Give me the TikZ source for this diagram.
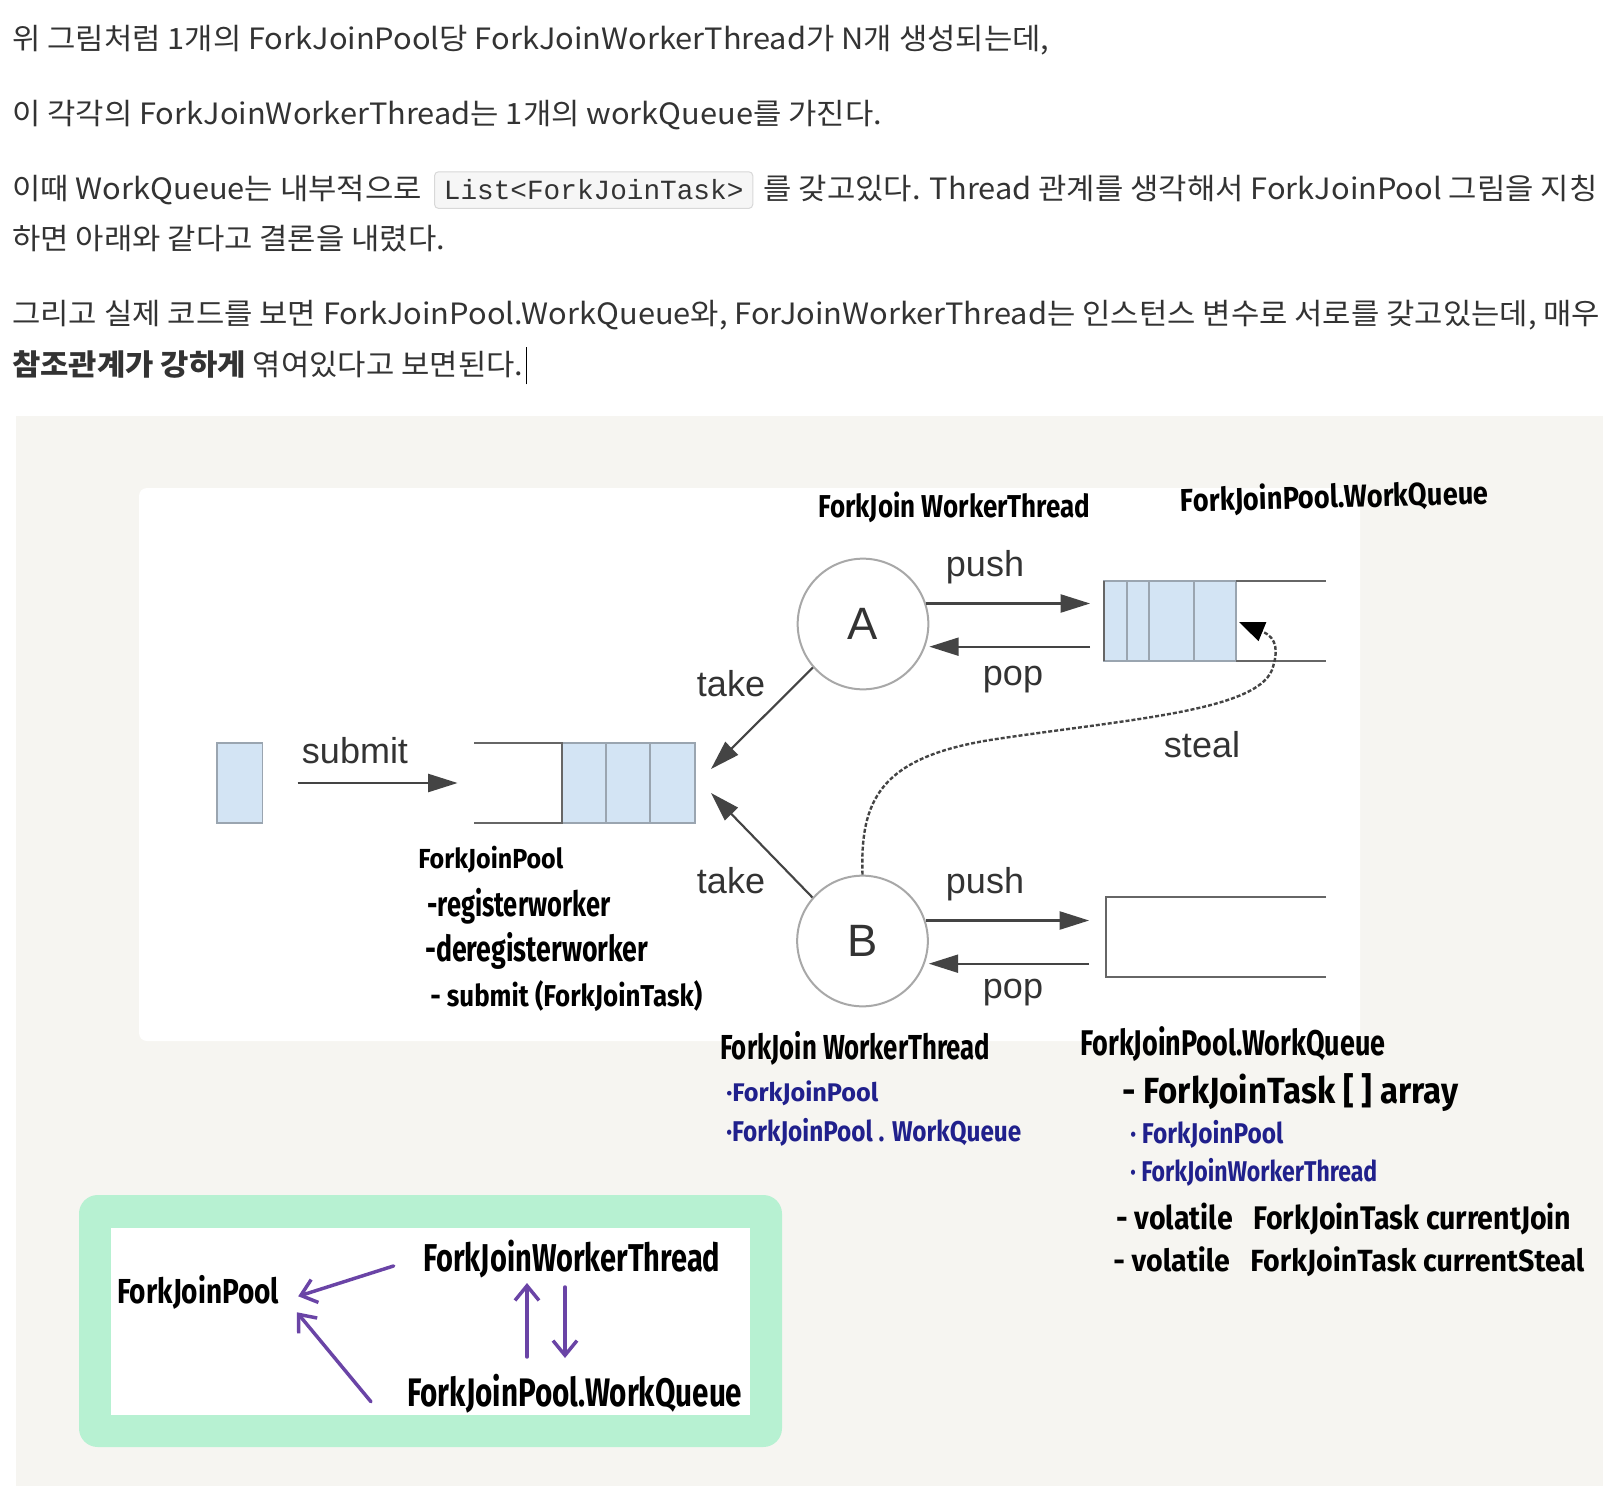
\documentclass[tikz,border=0pt]{standalone}
\usepackage{fontspec}
\usepackage{graphicx}
\usetikzlibrary{arrows.meta}
\setmainfont{Noto Sans CJK KR}[FakeStretch=1.05]
\newfontfamily\hwfont{Fira Sans}
\newfontfamily\dgfont{Liberation Sans}
\newfontfamily\codefont{Liberation Mono}
\newlength\pxu \setlength\pxu{0.75pt}
\newcommand\bodyfont{\fontsize{22}{26}\selectfont}
\newcommand\hwbox[3]{\resizebox*{#1\pxu}{#2\pxu}{\hwfont\bfseries #3}}
\definecolor{bodytext}{HTML}{333333}
\definecolor{paper}{HTML}{F6F5F1}
\definecolor{qblue}{HTML}{D3E4F4}
\definecolor{cellgray}{HTML}{9AA5B0}
\definecolor{qdark}{HTML}{666666}
\definecolor{circgray}{HTML}{A8A8A8}
\definecolor{arrowgray}{HTML}{444444}
\definecolor{dgtext}{HTML}{333333}
\definecolor{mint}{HTML}{B7F1D2}
\definecolor{violet}{HTML}{6A44A6}
\definecolor{navy}{HTML}{20208C}
\definecolor{codebg}{HTML}{F6F6F6}
\definecolor{codeline}{HTML}{D8D8D8}
\begin{document}
\begin{tikzpicture}[x=0.75pt,y=-0.75pt,
  body/.style={anchor=base west, inner sep=0pt, text=bodytext, font=\bodyfont},
  codebox/.style={anchor=base west, fill=codebg, draw=codeline, line width=0.75pt,
    rounded corners=3pt, inner xsep=7pt, inner ysep=0pt, minimum height=27.5pt,
    text=bodytext, font=\codefont\fontsize{20.8}{22}\selectfont},
  hw/.style={anchor=north west, inner sep=0pt, text=black},
  hwblue/.style={hw, text=navy},
  lbl/.style={inner sep=0pt, text=dgtext, font=\dgfont\fontsize{27}{30}\selectfont},
  worker/.style={circle, draw=circgray, fill=white, line width=1.5pt, minimum size=98pt,
    inner sep=0pt, text=dgtext, font=\dgfont\fontsize{34}{36}\selectfont},
  qcell/.style={fill=qblue, draw=cellgray, line width=1pt},
  qedge/.style={draw=qdark, line width=1.6pt},
  qbox/.style={inner sep=0pt, minimum width=166pt, minimum height=60pt},
  garrow/.style={draw=arrowgray, line width=1.6pt, -{Triangle[length=22pt,width=13.5pt]}},
  steal/.style={draw=arrowgray, line width=1.8pt, dash pattern=on 3pt off 1.5pt,
    -{Triangle[length=19pt,width=15pt,fill=black,color=black]}},
  parrow/.style={draw=violet, line width=2.6pt, line cap=round,
    -{Straight Barb[length=11pt,width=18pt,line width=2.6pt]}}]
\path[use as bounding box, fill=white] (0,0) rectangle (1624,1498);

% ---- text ----
\node[body] (l1) at (12,50) {위 그림처럼 1개의 ForkJoinPool당 ForkJoinWorkerThread가 N개 생성되는데,};
\node[body] (l2) at (12,125) {이 각각의 ForkJoinWorkerThread는 1개의 workQueue를 가진다.};
\node[body] (l3a) at (12,200) {이때 WorkQueue는 내부적으로};
\node[codebox] (code) at ([xshift=9pt]l3a.base east) {List<ForkJoinTask>};
\node[body] (l3b) at ([xshift=7.5pt]code.base east) {를 갖고있다. Thread 관계를 생각해서 ForkJoinPool 그림을 지칭};
\node[body] (l4) at (12,250) {하면 아래와 같다고 결론을 내렸다.};
\node[body] (l5) at (12,325) {그리고 실제 코드를 보면 ForkJoinPool.WorkQueue와, ForJoinWorkerThread는 인스턴스 변수로 서로를 갖고있는데, 매우};
\node[body] (l6) at (12,375) {\textbf{참조관계가 강하게} 엮여있다고 보면된다.};
\draw[black, line width=0.8pt] ([xshift=2pt,yshift=-7pt]l6.base east) -- ([xshift=2pt,yshift=21pt]l6.base east);

% ---- picture ----
\fill[paper] (16,416) rectangle (1603,1486);
\fill[white, rounded corners=6pt] (139,488) rectangle (1360,1041);

% task and pool queue
\node[qcell, inner sep=0pt, minimum width=34pt, minimum height=60pt] (task) at (239.5,783) {};
\node[qbox] (pool) at (584.5,783) {};
\draw[qcell] (562,743) rectangle (606,823);
\draw[qcell] (606,743) rectangle (650,823);
\draw[qcell] (650,743) rectangle (695,823);
\draw[qedge] (474,743) -- (562,743) -- (562,823) -- (474,823);
\coordinate (subS) at ([xshift=26pt]task.east);
\draw[garrow] (subS |- pool.west) -- ([xshift=-12pt]pool.west);
\node[lbl] (lsubmit) at (355,751) {submit};

% workers
\node[worker] (A) at (863,624) {A};
\node[worker] (B) at (862.5,941) {B};

% queue A
\node[qbox] (qA) at (1215,620.5) {};
\draw[qcell] (1104,581) rectangle (1127,661);
\draw[qcell] (1127,581) rectangle (1149,661);
\draw[qcell] (1149,581) rectangle (1194,661);
\draw[qcell] (1194,581) rectangle (1236,661);
\draw[qedge] (1104,581) -- (1104,661);
\draw[qedge] (1236,581) -- (1326,581);
\draw[qedge] (1236,661) -- (1326,661);

% queue B
\node[qbox] (qB) at (1216,937) {};
\draw[qedge] (1326,897) -- (1106,897) -- (1106,977) -- (1326,977);

% take arrows
\coordinate (take1) at (711,769);
\coordinate (take2) at (711,793);
\draw[garrow] (A.221) -- (take1);
\draw[garrow] (B.139) -- (take2);
\node[lbl] (ltake1) at (731,684) {take};
\node[lbl] (ltake2) at (731,881) {take};

% push / pop
\coordinate (qAin) at ([xshift=-10.5pt]qA.west);
\coordinate (qBin) at ([xshift=-12pt]qB.west);
\draw[garrow] (A.18) -- (A.18 -| qAin);
\draw[garrow] (A.-20 -| qAin) -- ([xshift=3pt]A.-20);
\draw[garrow] (B.18) -- (B.18 -| qBin);
\draw[garrow] (B.-20 -| qBin) -- ([xshift=3pt]B.-20);
\node[lbl] (lpushA) at (985,567) {push};
\node[lbl] (lpopA) at (1013,680) {pop};
\node[lbl] (lpushB) at (985,884) {push};
\node[lbl] (lpopB) at (1013,993) {pop};

% steal
\coordinate (stealTip) at (1239,622);
\draw[steal] (B.90) .. controls (860,800) and (880,758) .. (990,740)
  .. controls (1120,720) and (1255,712) .. (1272,670)
  .. controls (1278,652) and (1278,638) .. (stealTip);
\node[lbl] (lsteal) at (1202,745) {steal};

% handwriting in upper picture
\node[hw] (h1) at (818,492) {\hwbox{272}{31}{ForkJoin WorkerThread}};
\node[hw, rotate=1.5] (h2) at (1180,486) {\hwbox{308}{31}{ForkJoinPool.WorkQueue}};
\node[hw] (h3) at (418,846) {\hwbox{145}{27}{ForkJoinPool}};
\node[hw] (h4) at (427,888) {\hwbox{183}{36}{-registerworker}};
\node[hw] (h5) at (425,932) {\hwbox{223}{37}{-deregisterworker}};
\node[hw] (h6) at (430,980) {\hwbox{272}{31}{- submit (ForkJoinTask)}};
\node[hw] (h7) at (720,1031) {\hwbox{270}{34}{ForkJoin WorkerThread}};
\node[hwblue] (h8) at (726,1081) {\hwbox{152}{25}{·ForkJoinPool}};
\node[hwblue] (h9) at (726,1118) {\hwbox{295}{28}{·ForkJoinPool . WorkQueue}};
\node[hw] (h10) at (1080,1026) {\hwbox{305}{35}{ForkJoinPool.WorkQueue}};
\node[hw] (h11) at (1122,1073) {\hwbox{336}{38}{- ForkJoinTask [ ] array}};
\node[hwblue] (h12) at (1130,1120) {\hwbox{153}{28}{· ForkJoinPool}};
\node[hwblue] (h13) at (1130,1158) {\hwbox{247}{28}{· ForkJoinWorkerThread}};
\node[hw] (h14) at (1116,1203) {\hwbox{455}{32}{- volatile \ \ ForkJoinTask currentJoin}};
\node[hw] (h15) at (1113,1246) {\hwbox{471}{30}{- volatile \ \ ForkJoinTask currentSteal}};

% green box
\fill[mint, rounded corners=14pt] (79,1195) rectangle (782,1447);
\fill[white] (111,1228) rectangle (750,1415);
\node[hw] (g1) at (117,1275) {\hwbox{162}{34}{ForkJoinPool}};
\node[hw] (g2) at (423,1240) {\hwbox{297}{38}{ForkJoinWorkerThread}};
\node[hw] (g3) at (407,1374) {\hwbox{335}{39}{ForkJoinPool.WorkQueue}};
\draw[parrow] ([xshift=-22pt,yshift=-5pt]g2.west) -- ([xshift=14pt,yshift=-3pt]g1.east);
\draw[parrow] ([xshift=-27pt,yshift=-6pt]g3.west) -- ([xshift=13pt,yshift=-15pt]g1.east);
\draw[parrow] (527,1357) -- (527,1283);
\draw[parrow] (565,1287) -- (565,1358);
\end{tikzpicture}
\end{document}
